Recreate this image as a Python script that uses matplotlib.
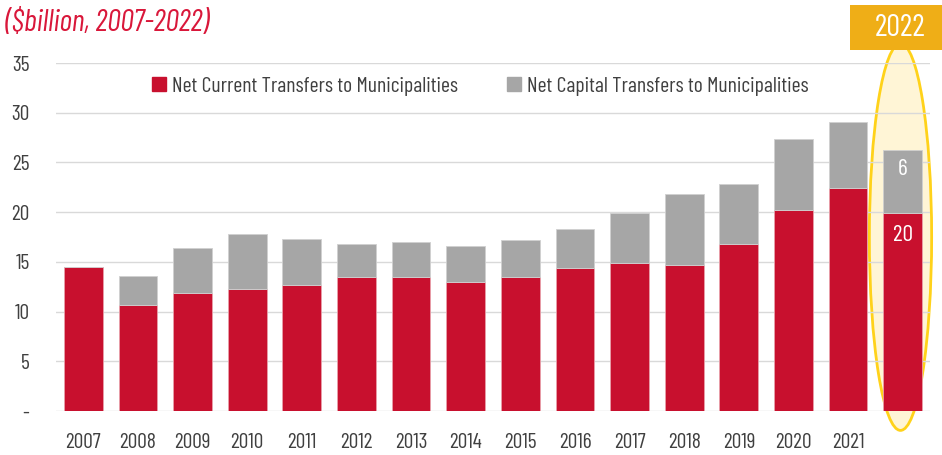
import matplotlib.pyplot as plt
from matplotlib.patches import Ellipse, Rectangle
from matplotlib.lines import Line2D

years = ['2007', '2008', '2009', '2010', '2011', '2012', '2013', '2014',
         '2015', '2016', '2017', '2018', '2019', '2020', '2021', '2022']
current = [14.5, 10.7, 11.9, 12.3, 12.7, 13.5, 13.5, 13.0,
           13.5, 14.4, 14.9, 14.7, 16.8, 20.2, 22.4, 19.9]
capital = [0.0, 2.9, 4.5, 5.5, 4.6, 3.3, 3.5, 3.6,
           3.7, 3.9, 5.0, 7.1, 6.0, 7.2, 6.7, 6.4]
yticks = [0, 5, 10, 15, 20, 25, 30, 35]
ytick_labels = ['-', '5', '10', '15', '20', '25', '30', '35']

RED = '#C8102E'
GREY = '#A6A6A6'
TXT = '#404040'
plt.rcParams['font.family'] = ['Barlow Condensed', 'DejaVu Sans']

W, H = 942, 455
fig = plt.figure(figsize=(W / 100, H / 100), dpi=100)
ax = fig.add_axes([56 / W, 1 - 411 / H, (930 - 56) / W, (411 - 63) / H])

x = list(range(len(years)))
ax.bar(x, current, width=0.71, color=RED, edgecolor='#E8A0AA', linewidth=0.6, zorder=3)
ax.bar(x, capital, bottom=current, width=0.71, color=GREY, edgecolor='#D0D0D0',
       linewidth=0.6, zorder=3)

for t in yticks:
    ax.axhline(t, color='#D9D9D9', linewidth=1, zorder=1)

# highlight for the last year
last = len(years) - 1
ell = Ellipse((last - 0.04, 17.5), 1.14, 38.9, facecolor='#FFF5D6',
              edgecolor='#FFD21A', linewidth=2, zorder=0.8, clip_on=False)
ax.add_patch(ell)

ax.text(last, current[last] + capital[last] * 0.68, '%d' % round(capital[last]),
        color='white', ha='center', va='center', fontsize=17, zorder=4)
ax.text(last, current[last] - 2.2, '%d' % round(current[last]),
        color='white', ha='center', va='center', fontsize=17, zorder=4)

ax.set_xlim(-0.5, 15.5)
ax.set_ylim(0, 35)
ax.set_yticks(yticks)
ax.set_yticklabels(ytick_labels, fontsize=15.5, color=TXT)
ax.set_xticks(x[:-1])
ax.set_xticklabels(years[:-1], fontsize=15.5, color=TXT)
ax.tick_params(axis='both', length=0)
ax.tick_params(axis='x', pad=16)
ax.tick_params(axis='y', pad=19)
for s in ax.spines.values():
    s.set_visible(False)

handles = [Line2D([], [], marker='s', linestyle='', markersize=10, color=RED),
           Line2D([], [], marker='s', linestyle='', markersize=10, color=GREY)]
fig.legend(handles, ['Net Current Transfers to Municipalities',
                     'Net Capital Transfers to Municipalities'],
           loc='center', bbox_to_anchor=(477 / W, 1 - 86 / H), ncol=2,
           frameon=False, fontsize=15.6, labelcolor=TXT, handletextpad=0.0,
           handlelength=1.2, columnspacing=2.0)

fig.text(5 / W, 1 - 23 / H, '($billion, 2007-2022)', color='#D9173A',
         fontsize=22, style='italic', ha='left', va='center')

fig.patches.append(Rectangle((850 / W, 1 - 50 / H), 92 / W, 45 / H,
                             transform=fig.transFigure, facecolor='#EFAE17',
                             edgecolor='none', zorder=5))
fig.text(900 / W, 1 - 28 / H, '2022', color='white', fontsize=22,
         ha='center', va='center', zorder=6)

fig.savefig('out.png', dpi=100)
